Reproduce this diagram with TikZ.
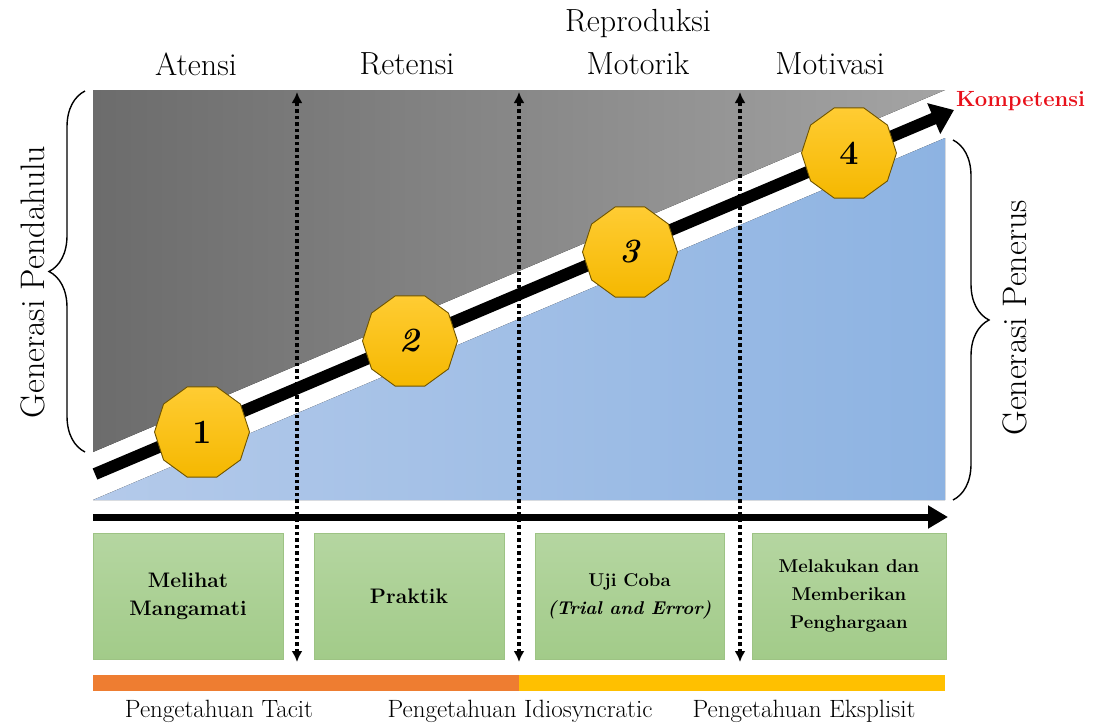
\documentclass[tikz,border=0pt]{standalone}
\usetikzlibrary{arrows.meta,shapes.geometric,decorations.pathreplacing}
\definecolor{grayL}{HTML}{6C6C6C}
\definecolor{grayR}{HTML}{A4A4A4}
\definecolor{blueL}{HTML}{B4CAEA}
\definecolor{blueR}{HTML}{8DB3E2}
\definecolor{goldT}{HTML}{FFCC33}
\definecolor{goldB}{HTML}{F5B800}
\definecolor{goldD}{HTML}{6F5400}
\definecolor{grnT}{HTML}{B5D6A1}
\definecolor{grnB}{HTML}{A2CB89}
\definecolor{grnD}{HTML}{9DC384}
\definecolor{barO}{HTML}{EE7D31}
\definecolor{barY}{HTML}{FFC000}
\definecolor{kompred}{HTML}{E8101A}
\begin{document}
\begin{tikzpicture}[x=1pt,y=-1pt,
  toplabel/.style={font=\fontsize{32}{36}\selectfont, inner sep=0pt},
  sidelabel/.style={font=\fontsize{34}{38}\selectfont, rotate=90, inner sep=0pt},
  botlabel/.style={font=\fontsize{25}{29}\selectfont, inner sep=0pt},
  deca/.style={regular polygon, regular polygon sides=10, minimum size=95pt, inner sep=0pt,
    top color=goldT, bottom color=goldB, draw=goldD, line width=0.9pt,
    font=\fontsize{34}{38}\selectfont\bfseries},
  greenbox/.style={minimum height=126pt, inner sep=0pt, top color=grnT, bottom color=grnB,
    draw=grnD, line width=0.5pt, align=center, font=\fontsize{21}{28}\selectfont\bfseries},
  smalltext/.style={font=\fontsize{18.5}{28}\selectfont\bfseries},
  dotarrow/.style={line width=3.5pt, dash pattern=on 3.5pt off 3pt,
    {Latex[length=11pt,width=11pt]}-{Latex[length=11pt,width=11pt]}},
  bigarrow/.style={line width=12pt, -{Triangle[length=22pt,width=32pt]}},
  basearrow/.style={line width=7pt, -{Triangle[length=20pt,width=22pt]}},
  bracestyle/.style={decorate, decoration={brace, amplitude=36pt, aspect=0.5}, line width=1.4pt}
]
\useasboundingbox (0,0) rectangle (1093,726);

% shaded regions
\fill[left color=grayL, right color=grayR] (93,90) -- (945,90) -- (93,452) -- cycle;
\fill[left color=blueL, right color=blueR] (93,500) -- (945,138) -- (945,500) -- cycle;

% competence arrow
\coordinate (ks) at (95,474);
\coordinate (ke) at (954,110);
\draw[bigarrow] (ks) -- (ke);
\node[font=\fontsize{22}{26}\selectfont\bfseries, text=kompred, anchor=west, inner sep=0pt] (komp) at (956,101) {Kompetensi};

% dotted separators
\coordinate (a1t) at (297,92);  \coordinate (a1b) at (297,662);
\coordinate (a2t) at (519,92);  \coordinate (a2b) at (519,662);
\coordinate (a3t) at (740,92);  \coordinate (a3b) at (740,662);
\draw[dotarrow] (a1b) -- (a1t);
\draw[dotarrow] (a2b) -- (a2t);
\draw[dotarrow] (a3b) -- (a3t);

% base arrow
\coordinate (b1) at (93,517);
\coordinate (b2) at (948,517);
\draw[basearrow] (b1) -- (b2);

% decagons
\node[deca] (n1) at (202,432) {1};
\node[deca] (n2) at (410,341) {\itshape 2};
\node[deca] (n3) at (630,252) {\itshape 3};
\node[deca] (n4) at (849,153) {4};

% top labels
\node[toplabel] (atensi) at (196,64) {Atensi};
\node[toplabel] (retensi) at (407,64) {Retensi};
\node[toplabel] (repro) at (638,24) {Reproduksi};
\node[toplabel] (motorik) at (638,64) {Motorik};
\node[toplabel] (motivasi) at (830,64) {Motivasi};

% braces
\coordinate (lb1) at (85,452); \coordinate (lb2) at (85,91);
\draw[bracestyle] (lb1) -- (lb2);
\node[sidelabel] (gpend) at (33,282) {Generasi Pendahulu};
\coordinate (rb1) at (953,140); \coordinate (rb2) at (953,500);
\draw[bracestyle] (rb1) -- (rb2);
\node[sidelabel] (gpen) at (1015,318) {Generasi Penerus};

% green boxes
\node[greenbox, minimum width=190pt] (g1) at (188,596) {Melihat\\Mangamati};
\node[greenbox, minimum width=190pt] (g2) at (409,596) {Praktik};
\node[greenbox, smalltext, minimum width=189pt] (g3) at (629.5,596) {Uji Coba\\\textit{(Trial and Error)}};
\node[greenbox, smalltext, minimum width=194pt] (g4) at (849,596) {Melakukan dan\\Memberikan\\Penghargaan};

% knowledge bar
\fill[barO] (93,675) rectangle (519,691);
\fill[barY] (519,675) rectangle (945,691);

% bottom labels
\node[botlabel] (tacit) at (219,711) {Pengetahuan Tacit};
\node[botlabel] (idio) at (520,711) {Pengetahuan Idiosyncratic};
\node[botlabel] (eksp) at (804,711) {Pengetahuan Eksplisit};
\end{tikzpicture}
\end{document}
